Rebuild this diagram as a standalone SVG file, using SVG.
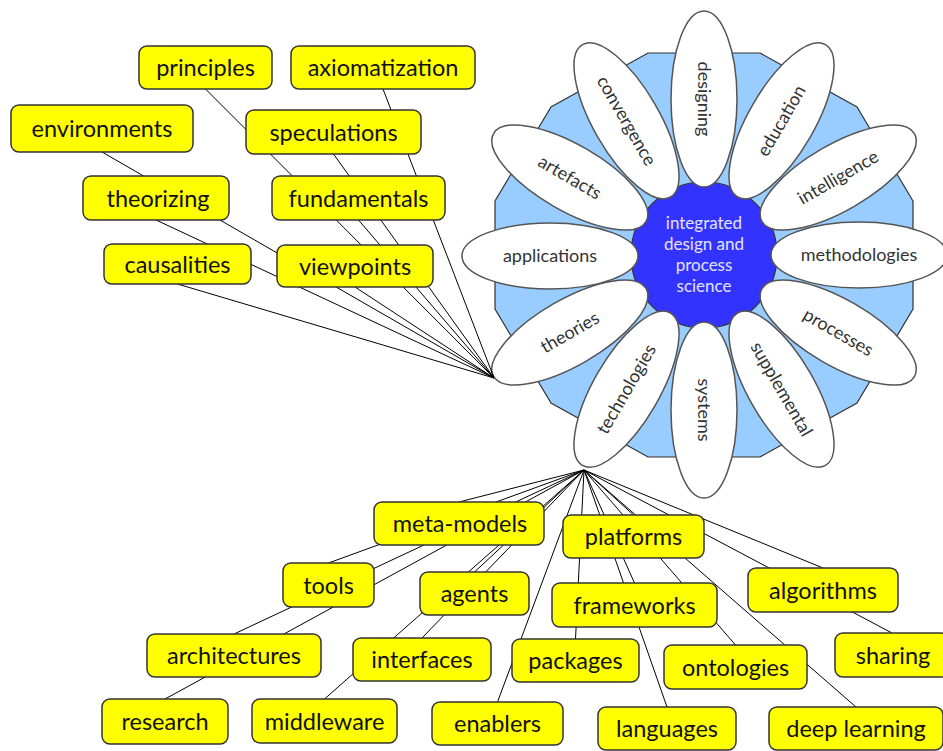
<svg xmlns="http://www.w3.org/2000/svg" width="943" height="751" viewBox="0 0 943 751">
  <style>
    .box rect { fill: #ffff00; stroke: #333; stroke-width: 1.5; }
    .box text { font-family: Lato, "Liberation Sans", sans-serif; font-size: 23.5px; fill: #111; text-anchor: middle; }
    .petal ellipse { fill: #fff; stroke: #555; stroke-width: 1.5; }
    .petal text { font-family: Lato, "Liberation Sans", sans-serif; font-size: 18px; fill: #333; text-anchor: middle; }
    .core text { font-family: Lato, "Liberation Sans", sans-serif; font-size: 17px; fill: #e2e2ff; text-anchor: middle; }
    #connectors line { stroke: #000; stroke-width: 1; }
  </style>

  <!-- flower: 12-sided backdrop, blue core, 12 petals -->
  <g id="flower">
    <polygon id="backdrop" points="913,201 857,107 760,53 648,53 551,107 495,201 495,309 551,403 648,457 760,457 857,403 913,309" fill="#99ccff" stroke="#333" stroke-width="1.2"/>
    <circle cx="704" cy="255" r="73" fill="#3333ff" stroke="#333" stroke-width="1.2"/>

    <g id="petal-theories" class="petal"><ellipse cx="569.8" cy="332.5" rx="88" ry="33" transform="rotate(-30 569.8 332.5)"/><text x="569.8" y="332.5" dy="6" transform="rotate(-30 569.8 332.5)">theories</text></g>
    <g id="petal-technologies" class="petal"><ellipse cx="626.5" cy="389.2" rx="88" ry="33" transform="rotate(-60 626.5 389.2)"/><text x="626.5" y="389.2" dy="6" transform="rotate(-60 626.5 389.2)">technologies</text></g>
    <g id="petal-systems" class="petal"><ellipse cx="704" cy="410" rx="88" ry="33" transform="rotate(90 704 410)"/><text x="704" y="410" dy="6" transform="rotate(90 704 410)">systems</text></g>
    <g id="petal-supplemental" class="petal"><ellipse cx="781.5" cy="389.2" rx="88" ry="33" transform="rotate(60 781.5 389.2)"/><text x="781.5" y="389.2" dy="6" transform="rotate(60 781.5 389.2)">supplemental</text></g>
    <g id="petal-processes" class="petal"><ellipse cx="838.2" cy="332.5" rx="88" ry="33" transform="rotate(30 838.2 332.5)"/><text x="838.2" y="332.5" dy="6" transform="rotate(30 838.2 332.5)">processes</text></g>
    <g id="petal-methodologies" class="petal"><ellipse cx="859" cy="255" rx="88" ry="33"/><text x="859" y="255" dy="6">methodologies</text></g>
    <g id="petal-intelligence" class="petal"><ellipse cx="838.2" cy="177.5" rx="88" ry="33" transform="rotate(-30 838.2 177.5)"/><text x="838.2" y="177.5" dy="6" transform="rotate(-30 838.2 177.5)">intelligence</text></g>
    <g id="petal-education" class="petal"><ellipse cx="781.5" cy="120.8" rx="88" ry="33" transform="rotate(-60 781.5 120.8)"/><text x="781.5" y="120.8" dy="6" transform="rotate(-60 781.5 120.8)">education</text></g>
    <g id="petal-designing" class="petal"><ellipse cx="704" cy="99" rx="88" ry="33" transform="rotate(90 704 99)"/><text x="704" y="99" dy="6" transform="rotate(90 704 99)">designing</text></g>
    <g id="petal-convergence" class="petal"><ellipse cx="626.5" cy="120.8" rx="88" ry="33" transform="rotate(60 626.5 120.8)"/><text x="626.5" y="120.8" dy="6" transform="rotate(60 626.5 120.8)">convergence</text></g>
    <g id="petal-artefacts" class="petal"><ellipse cx="569.8" cy="177.5" rx="88" ry="33" transform="rotate(30 569.8 177.5)"/><text x="569.8" y="177.5" dy="6" transform="rotate(30 569.8 177.5)">artefacts</text></g>
    <g id="petal-applications" class="petal"><ellipse cx="550" cy="256" rx="88" ry="33"/><text x="550" y="256" dy="6">applications</text></g>

    <g id="core" class="core">
      <text x="704" y="229">integrated</text>
      <text x="704" y="250">design and</text>
      <text x="704" y="271">process</text>
      <text x="704" y="292">science</text>
    </g>
  </g>

  <!-- connectors: upper-left fan meets at (494,378), lower fan at (584,470) -->
  <g id="connectors">
    <line x1="205.5" y1="89" x2="494" y2="378"/>
    <line x1="383" y1="89" x2="494" y2="378"/>
    <line x1="102" y1="152" x2="494" y2="378"/>
    <line x1="333.5" y1="154" x2="494" y2="378"/>
    <line x1="156" y1="220" x2="494" y2="378"/>
    <line x1="358.5" y1="220" x2="494" y2="378"/>
    <line x1="177.5" y1="284" x2="494" y2="378"/>
    <line x1="355" y1="287" x2="494" y2="378"/>

    <line x1="584" y1="470" x2="459" y2="502"/>
    <line x1="584" y1="470" x2="328.5" y2="563"/>
    <line x1="584" y1="470" x2="474.5" y2="572"/>
    <line x1="584" y1="470" x2="234" y2="634"/>
    <line x1="584" y1="470" x2="422" y2="638"/>
    <line x1="584" y1="470" x2="165" y2="699"/>
    <line x1="584" y1="470" x2="324.5" y2="699"/>
    <line x1="584" y1="470" x2="497.5" y2="702"/>
    <line x1="584" y1="470" x2="633.5" y2="515"/>
    <line x1="584" y1="470" x2="634.5" y2="583"/>
    <line x1="584" y1="470" x2="823" y2="568"/>
    <line x1="584" y1="470" x2="575.5" y2="639"/>
    <line x1="584" y1="470" x2="735.5" y2="645"/>
    <line x1="584" y1="470" x2="892" y2="633"/>
    <line x1="584" y1="470" x2="667" y2="707"/>
    <line x1="584" y1="470" x2="856" y2="707"/>
  </g>

  <!-- upper-left labels -->
  <g id="principles" class="box"><rect x="139" y="46" width="133" height="43" rx="8"/><text x="205.5" y="76">principles</text></g>
  <g id="axiomatization" class="box"><rect x="291" y="46" width="184" height="43" rx="8"/><text x="383" y="76">axiomatization</text></g>
  <g id="environments" class="box"><rect x="11" y="105" width="182" height="47" rx="8"/><text x="102" y="137">environments</text></g>
  <g id="speculations" class="box"><rect x="246" y="110" width="175" height="44" rx="8"/><text x="333.5" y="140.5">speculations</text></g>
  <g id="theorizing" class="box"><rect x="83" y="176" width="146" height="44" rx="8"/><text x="158" y="206.5">theorizing</text></g>
  <g id="fundamentals" class="box"><rect x="272" y="176" width="173" height="44" rx="8"/><text x="358.5" y="206.5">fundamentals</text></g>
  <g id="causalities" class="box"><rect x="104" y="244" width="147" height="40" rx="8"/><text x="177.5" y="272.5">causalities</text></g>
  <g id="viewpoints" class="box"><rect x="277" y="245" width="156" height="42" rx="8"/><text x="355" y="274.5">viewpoints</text></g>

  <!-- lower labels -->
  <g id="meta-models" class="box"><rect x="374" y="502" width="170" height="43" rx="8"/><text x="460" y="532">meta-models</text></g>
  <g id="tools" class="box"><rect x="283" y="563" width="91" height="44" rx="8"/><text x="328.5" y="593.5">tools</text></g>
  <g id="agents" class="box"><rect x="420" y="572" width="109" height="43" rx="8"/><text x="474.5" y="602">agents</text></g>
  <g id="platforms" class="box"><rect x="563" y="515" width="141" height="43" rx="8"/><text x="633.5" y="545">platforms</text></g>
  <g id="frameworks" class="box"><rect x="552" y="583" width="165" height="44" rx="8"/><text x="634.5" y="613.5">frameworks</text></g>
  <g id="algorithms" class="box"><rect x="748" y="568" width="150" height="44" rx="8"/><text x="823" y="598.5">algorithms</text></g>
  <g id="architectures" class="box"><rect x="147" y="634" width="174" height="43" rx="8"/><text x="234" y="664">architectures</text></g>
  <g id="interfaces" class="box"><rect x="353" y="638" width="138" height="43" rx="8"/><text x="422" y="668">interfaces</text></g>
  <g id="packages" class="box"><rect x="512" y="639" width="127" height="43" rx="8"/><text x="575.5" y="669">packages</text></g>
  <g id="ontologies" class="box"><rect x="664" y="645" width="143" height="44" rx="8"/><text x="735.5" y="675.5">ontologies</text></g>
  <g id="sharing" class="box"><rect x="835" y="633" width="114" height="44" rx="8"/><text x="893" y="663.5">sharing</text></g>
  <g id="research" class="box"><rect x="102" y="699" width="126" height="45" rx="8"/><text x="165" y="730">research</text></g>
  <g id="middleware" class="box"><rect x="252" y="699" width="145" height="44" rx="8"/><text x="324.5" y="729.5">middleware</text></g>
  <g id="enablers" class="box"><rect x="432" y="702" width="131" height="43" rx="8"/><text x="497.5" y="732">enablers</text></g>
  <g id="languages" class="box"><rect x="598" y="707" width="138" height="43" rx="8"/><text x="667" y="737">languages</text></g>
  <g id="deep-learning" class="box"><rect x="769" y="707" width="174" height="43" rx="8"/><text x="856" y="737">deep learning</text></g>
</svg>
